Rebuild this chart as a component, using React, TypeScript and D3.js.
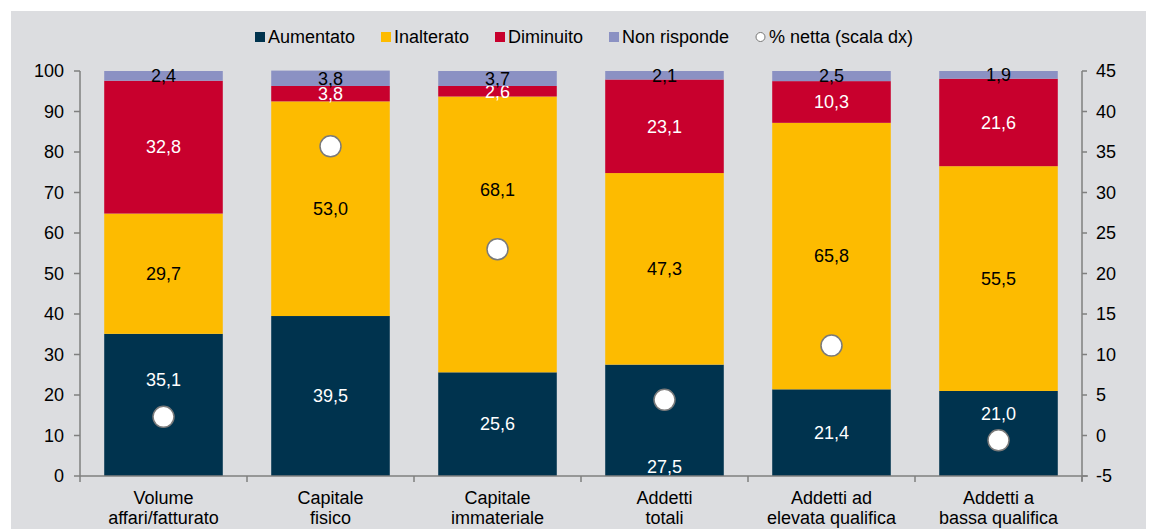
import React from "react";
import * as d3 from "d3";

const categories = [
  ["Volume", "affari/fatturato"],
  ["Capitale", "fisico"],
  ["Capitale", "immateriale"],
  ["Addetti", "totali"],
  ["Addetti ad", "elevata qualifica"],
  ["Addetti a", "bassa qualifica"],
];
const aumentato = [35.1, 39.5, 25.6, 27.5, 21.4, 21.0];
const inalterato = [29.7, 53.0, 68.1, 47.3, 65.8, 55.5];
const diminuito = [32.8, 3.8, 2.6, 23.1, 10.3, 21.6];
const nonRisponde = [2.4, 3.8, 3.7, 2.1, 2.5, 1.9];
const netta = [2.3, 35.7, 23.0, 4.4, 11.1, -0.6];
// label shifts (data units), labels moved to avoid the markers
const aumLabelShift = [6.2, 0, 0, -11.5, 0, 4.8];
const inaLabelShift = [0, 0, 11, 0, 0, 0];
const leftTicks = [0, 10, 20, 30, 40, 50, 60, 70, 80, 90, 100];
const rightTicks = [-5, 0, 5, 10, 15, 20, 25, 30, 35, 40, 45];

const seriesNames = ["Aumentato", "Inalterato", "Diminuito", "Non risponde"];
const seriesColors = ["#00334E", "#FDBB00", "#C8002D", "#8B91C3"];
const labelColors = ["#FFFFFF", "#000000", "#FFFFFF", "#000000"];

const fmt = (v: number) => v.toFixed(1).replace(".", ",");

export default function App() {
  const W = 1151, H = 529;
  const x0 = 80, x1 = 1082, yTop = 71, yBot = 476;
  const x = d3.scaleBand<number>().domain(d3.range(categories.length)).range([x0, x1]).paddingInner(0.29).paddingOuter(0.145);
  const y = d3.scaleLinear().domain([0, 100]).range([yBot, yTop]);
  const yR = d3.scaleLinear().domain([-5, 45]).range([yBot, yTop]);
  const series = [aumentato, inalterato, diminuito, nonRisponde];
  const shifts = [aumLabelShift, inaLabelShift, null, null];
  const step = (x1 - x0) / categories.length;
  const font = "'Liberation Sans', Arial, sans-serif";
  const axisColor = "#7F7F7F";
  const fs = 18;

  const legendItems = [
    { name: seriesNames[0], x: 255, kind: 0 },
    { name: seriesNames[1], x: 381, kind: 1 },
    { name: seriesNames[2], x: 495, kind: 2 },
    { name: seriesNames[3], x: 609, kind: 3 },
    { name: "% netta (scala dx)", x: 756, kind: 4 },
  ];

  return (
    <svg width={W} height={H} style={{ position: "absolute", left: 0, top: 0 }} fontFamily={font}>
      <rect x={11} y={11} width={1135} height={H - 11} fill="#DCDDE0" />
      {/* legend */}
      {legendItems.map((it) => (
        <g key={it.name}>
          {it.kind < 4 ? (
            <rect x={it.x} y={32} width={10} height={10} fill={seriesColors[it.kind]} />
          ) : (
            <circle cx={it.x + 4.5} cy={37} r={4.5} fill="#fff" stroke="#777" strokeWidth={1} />
          )}
          <text x={it.x + 13} y={37} dy="0.35em" fontSize={fs} fill="#000">{it.name}</text>
        </g>
      ))}
      {/* bars */}
      {categories.map((c, i) => {
        let cum = 0;
        return (
          <g key={i}>
            {series.map((s, k) => {
              const v = s[i];
              const ya = y(cum + v), yb = y(cum);
              const sh = shifts[k] ? shifts[k]![i] : 0;
              const mid = cum + v / 2 + sh;
              cum += v;
              return (
                <g key={k}>
                  <rect x={x(i)} y={ya} width={x.bandwidth()} height={yb - ya} fill={seriesColors[k]} />
                  <text x={x(i)! + x.bandwidth() / 2} y={y(mid)} dy="0.35em" textAnchor="middle" fontSize={fs} fill={labelColors[k]}>
                    {fmt(v)}
                  </text>
                </g>
              );
            })}
          </g>
        );
      })}
      {/* markers */}
      {netta.map((v, i) => (
        <circle key={i} cx={x(i)! + x.bandwidth() / 2} cy={yR(v)} r={10.5} fill="#FFFFFF" stroke="#7A7A7A" strokeWidth={1.5} />
      ))}
      {/* left axis */}
      <line x1={x0} x2={x0} y1={yTop} y2={yBot} stroke={axisColor} strokeWidth={1.5} />
      {leftTicks.map((t) => (
        <g key={t}>
          <line x1={x0 - 6} x2={x0} y1={y(t)} y2={y(t)} stroke={axisColor} strokeWidth={1.5} />
          <text x={x0 - 16} y={y(t)} dy="0.35em" textAnchor="end" fontSize={fs} fill="#000">{t}</text>
        </g>
      ))}
      {/* right axis */}
      <line x1={x1} x2={x1} y1={yTop} y2={yBot + 5} stroke={axisColor} strokeWidth={1.5} />
      {rightTicks.map((t) => (
        <g key={t}>
          <line x1={x1} x2={x1 + 5} y1={yR(t)} y2={yR(t)} stroke={axisColor} strokeWidth={1.5} />
          <text x={x1 + 14} y={yR(t)} dy="0.35em" textAnchor="start" fontSize={fs} fill="#000">{t}</text>
        </g>
      ))}
      {/* bottom axis */}
      <line x1={x0} x2={x1 + 6} y1={yBot} y2={yBot} stroke={axisColor} strokeWidth={1.5} />
      {d3.range(categories.length + 1).map((i) => (
        <line key={i} x1={x0 + i * step} x2={x0 + i * step} y1={yBot} y2={yBot + 6} stroke={axisColor} strokeWidth={1.5} />
      ))}
      {categories.map((c, i) => (
        <text key={i} x={x(i)! + x.bandwidth() / 2} textAnchor="middle" fontSize={fs} fill="#000">
          <tspan x={x(i)! + x.bandwidth() / 2} y={504}>{c[0]}</tspan>
          <tspan x={x(i)! + x.bandwidth() / 2} y={524}>{c[1]}</tspan>
        </text>
      ))}
    </svg>
  );
}
